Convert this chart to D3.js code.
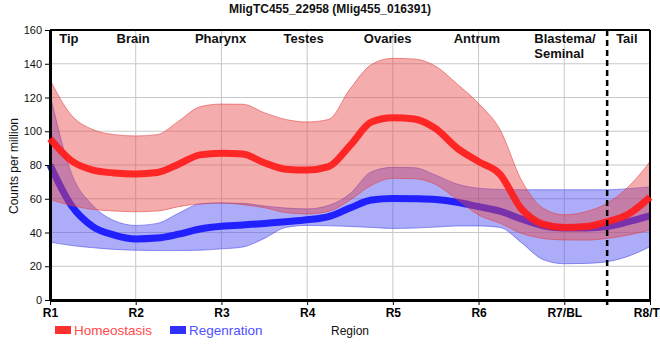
<!DOCTYPE html>
<html>
<head>
<meta charset="utf-8">
<script src="https://cdn.jsdelivr.net/npm/d3@7"></script>
<style>
  html, body { margin: 0; padding: 0; background: #fff; }
  svg { display: block; font-family: "Liberation Sans", Arial, sans-serif; }
</style>
</head>
<body>
<svg id="chart" width="660" height="360"></svg>
<script>
// ---------- data ----------
const title = "MligTC455_22958 (Mlig455_016391)";
const regions = ["R1", "R2", "R3", "R4", "R5", "R6", "R7/BL", "R8/TL"];
const regionNames = ["Tip", "Brain", "Pharynx", "Testes", "Ovaries", "Antrum", "Blastema/|Seminal", "Tail"];
const regionNameAt = [0.22, 0.97, 1.99, 2.96, 3.94, 4.98, 5.65, 6.73];
const regionNameAnchor = ["middle", "middle", "middle", "middle", "middle", "middle", "start", "middle"];
const yTicks = [0, 20, 40, 60, 80, 100, 120, 140, 160];
const dividerAt = 6.5;

// sample positions along the region axis (R1 = 0 ... R8 = 7)
const positions = [0, 0.25, 0.5, 0.75, 1, 1.25, 1.5, 1.75, 2, 2.25, 2.5, 2.75, 3, 3.25, 3.5,
                   3.75, 4, 4.25, 4.5, 4.75, 5, 5.25, 5.5, 5.75, 6, 6.25, 6.5, 6.75, 7];

const homeoMean  = [95.5, 82.5, 77, 75.3, 74.7, 75.5, 80.5, 86, 87, 86.5, 81.3, 77.5, 77, 79, 91.5,
                    105.5, 108, 107.3, 101.5, 90, 82, 74.5, 54, 45, 43, 43.5, 46.4, 51, 61];
const homeoUpper = [130.5, 109.5, 101, 98, 97.2, 98, 106, 114.5, 116.1, 116, 111, 107, 105.5, 107, 125,
                    139.5, 143.2, 142.8, 138.5, 128, 116.5, 101, 71, 54.5, 50.5, 52.3, 57.3, 67.2, 82];
const homeoLower = [59.5, 56, 53.7, 52.7, 52.3, 52.7, 55.3, 57, 57.5, 56.5, 54.7, 51.8, 51, 52.5, 59.3,
                    68, 72.1, 71.9, 68.5, 59.5, 50.4, 45.5, 39.5, 36.5, 35.6, 35.5, 36.5, 38.5, 41.5];

const regenMean  = [80, 56, 43.5, 38.5, 36.2, 36.7, 39, 42.1, 43.7, 44.4, 45.4, 46.4, 47.5, 49.4, 54.5,
                    59.3, 60.2, 60, 59.5, 57.9, 55.3, 52.6, 48, 44, 42.7, 42.7, 43.5, 46.4, 49.8];
const regenUpper = [122, 75, 56, 47, 44.2, 45.4, 51.4, 56.9, 57.5, 57.3, 55.7, 54.5, 54, 56, 63,
                    76, 78.6, 78.4, 74, 68.7, 66.2, 65.5, 65.3, 65.3, 65.3, 65.3, 65.3, 66, 67];
const regenLower = [34.3, 32.3, 31, 30, 29.5, 29.3, 29.3, 29.5, 30.3, 31.4, 36.5, 43, 44.2, 44, 43.6,
                    43, 42.4, 42.6, 43.2, 43.9, 43.9, 43, 34, 24, 21.5, 21.7, 22.7, 26, 31.6];

const seriesNames = ["Homeostasis", "Regenration"];

// ---------- layout ----------
const svg = d3.select("#chart");
const pL = 50, pR = 650, pT = 30, pB = 300;
const x = d3.scaleLinear().domain([0, 7]).range([pL, pR]);
const y = d3.scaleLinear().domain([0, 160]).range([pB, pT]);

const pts = (vals) => positions.map((p, i) => ({ p, v: vals[i] }));
const bandPts = (lo, hi) => positions.map((p, i) => ({ p, lo: lo[i], hi: hi[i] }));

const lineGen = d3.line().x(d => x(d.p)).y(d => y(d.v)).curve(d3.curveMonotoneX);
const areaGen = d3.area().x(d => x(d.p)).y0(d => y(d.lo)).y1(d => y(d.hi)).curve(d3.curveMonotoneX);

// grid
const grid = svg.append("g");
grid.selectAll("line.h").data(yTicks.filter(t => t > 0 && t < 160)).join("line")
  .attr("x1", pL).attr("x2", pR).attr("y1", d => y(d)).attr("y2", d => y(d))
  .attr("stroke", "#c8c8c8").attr("stroke-width", 1);
grid.selectAll("line.v").data(d3.range(1, 7)).join("line")
  .attr("x1", d => x(d)).attr("x2", d => x(d)).attr("y1", pT).attr("y2", pB)
  .attr("stroke", "#c8c8c8").attr("stroke-width", 1);

// regeneration band + line
svg.append("path").datum(bandPts(regenLower, regenUpper))
  .attr("d", areaGen).attr("fill", "rgba(70,70,240,0.45)")
  .attr("stroke", "rgba(70,70,230,0.55)").attr("stroke-width", 1);
svg.append("path").datum(pts(regenMean))
  .attr("d", lineGen).attr("fill", "none").attr("stroke", "#2121ff").attr("stroke-width", 7);

// homeostasis band
svg.append("path").datum(bandPts(homeoLower, homeoUpper))
  .attr("d", areaGen).attr("fill", "rgba(230,70,70,0.45)")
  .attr("stroke", "rgba(225,60,60,0.55)").attr("stroke-width", 1);

// axes
const yAxis = svg.append("g").attr("transform", `translate(${pL},0)`)
  .call(d3.axisLeft(y).tickValues(yTicks).tickSize(5).tickSizeOuter(0).tickPadding(3));
yAxis.select(".domain").attr("stroke", "#000").attr("stroke-width", 3);
yAxis.selectAll(".tick line").attr("stroke", "#000").attr("stroke-width", 1);
yAxis.selectAll(".tick text").attr("font-size", 11).attr("fill", "#111")
  .attr("font-family", "'Liberation Sans', Arial, sans-serif");

const xAxis = svg.append("g").attr("transform", `translate(0,${pB})`)
  .call(d3.axisBottom(x).tickValues(d3.range(regions.length)).tickFormat(i => regions[i])
    .tickSize(5).tickSizeOuter(0).tickPadding(3));
xAxis.select(".domain").attr("stroke", "#000").attr("stroke-width", 3);
xAxis.selectAll(".tick line").attr("stroke", "#000").attr("stroke-width", 1);
xAxis.selectAll(".tick text").attr("font-size", 12).attr("font-weight", "bold").attr("fill", "#000")
  .attr("font-family", "'Liberation Sans', Arial, sans-serif");

// frame top/right
svg.append("line").attr("x1", pL).attr("x2", pR).attr("y1", pT).attr("y2", pT)
  .attr("stroke", "#000").attr("stroke-width", 2);
svg.append("line").attr("x1", pR).attr("x2", pR).attr("y1", pT).attr("y2", pB)
  .attr("stroke", "#000").attr("stroke-width", 2);

// homeostasis line on top
svg.append("path").datum(pts(homeoMean))
  .attr("d", lineGen).attr("fill", "none").attr("stroke", "#ff1c1c")
  .attr("stroke-opacity", 0.93).attr("stroke-width", 7);

// divider
svg.append("line").attr("x1", x(dividerAt)).attr("x2", x(dividerAt)).attr("y1", pT).attr("y2", pB + 5)
  .attr("stroke", "#000").attr("stroke-width", 2.5).attr("stroke-dasharray", "6,4");

// region names
const rn = svg.append("g").attr("font-size", 13).attr("font-weight", "bold").attr("fill", "#111");
regionNames.forEach((name, i) => {
  const t = rn.append("text").attr("text-anchor", regionNameAnchor[i]);
  name.split("|").forEach((part, j) => {
    t.append("tspan").attr("x", x(regionNameAt[i])).attr("y", 43 + j * 15).text(part);
  });
});

// title
svg.append("text").attr("x", 330).attr("y", 13).attr("text-anchor", "middle")
  .attr("font-size", 12).attr("font-weight", "bold").attr("fill", "#111").text(title);

// y title
svg.append("text").attr("transform", "translate(18,166) rotate(-90)").attr("text-anchor", "middle")
  .attr("font-size", 12).attr("fill", "#111").text("Counts per million");

// x title
svg.append("text").attr("x", (pL + pR) / 2).attr("y", 335).attr("text-anchor", "middle")
  .attr("font-size", 12).attr("fill", "#111").text("Region");

// legend
const legendColors = ["#ff3030", "#3030ff"];
const legendText = ["#ff4a4a", "#5050ff"];
const legendX = [55, 170];
seriesNames.forEach((name, i) => {
  svg.append("rect").attr("x", legendX[i]).attr("y", 326).attr("width", 16).attr("height", 8)
    .attr("fill", legendColors[i]);
  svg.append("text").attr("x", legendX[i] + 19).attr("y", 335).attr("font-size", 13.5)
    .attr("fill", legendText[i]).text(name);
});
</script>
</body>
</html>
